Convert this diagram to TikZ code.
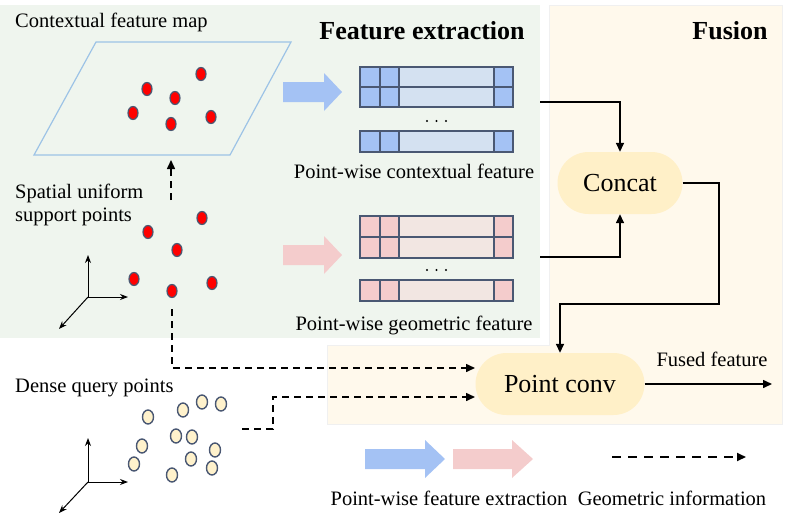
\documentclass[tikz,border=0pt]{standalone}
\usepackage{fontspec}
\setmainfont{Liberation Serif}
\usetikzlibrary{arrows.meta,positioning}

\definecolor{panelgreen}{HTML}{EFF5EE}
\definecolor{panelcream}{HTML}{FFF9EC}
\definecolor{nodecream}{HTML}{FFF0C8}
\definecolor{slate}{HTML}{4A5873}
\definecolor{ctxdark}{HTML}{A4C2F4}
\definecolor{ctxlight}{HTML}{D4E1F1}
\definecolor{geodark}{HTML}{F4CCCC}
\definecolor{geolight}{HTML}{F2E6E2}
\definecolor{planeblue}{HTML}{9DC3E6}
\definecolor{querycream}{HTML}{FFF2CC}

% block arrow: colour, left x, centre y, length, head length
\newcommand{\fatarrow}[5]{%
	\fill[#1] (#2,#3-10) -- (#2+#4-#5,#3-10) -- (#2+#4-#5,#3-19) -- (#2+#4,#3)
	-- (#2+#4-#5,#3+19) -- (#2+#4-#5,#3+10) -- (#2,#3+10) -- cycle;}
% one row of a feature bar: dark, light, top y, bottom y
\newcommand{\featrow}[4]{%
	\foreach \xa/\xb/\c in {360/380/#1,380/399/#1,399/494/#2,494/513/#1}
	\draw[cell,fill=\c] (\xa,#3) rectangle (\xb,#4);}

\begin{document}
\begin{tikzpicture}[
		x=1pt, y=-1pt,
		txt/.style={font=\fontsize{20.5}{23}\selectfont, inner sep=0pt},
		title/.style={font=\fontsize{26}{30}\selectfont\bfseries, inner sep=0pt},
		stage/.style={
			fill=nodecream,
			rounded corners=31pt,
			minimum height=62pt,
			font=\fontsize{26}{30}\selectfont
		},
		flow/.style={line width=1.5pt, -{Triangle[length=9pt,width=8pt]}},
		geo/.style={flow, dash pattern=on 7pt off 5pt},
		cell/.style={draw=slate, line width=1.6pt},
		supp/.style={draw=slate, fill=red, line width=1.2pt},
		query/.style={draw=slate, fill=querycream, line width=1.4pt},
		axis/.style={line width=1pt, -{Stealth[length=8pt,width=6pt]}}
		]
		
		\useasboundingbox (0,0) rectangle (788,528);
		
		\fill[panelgreen] (0,5) rectangle (540,338);
		\filldraw[fill=panelcream, draw=black!6] (327,345) -- (549,345) -- (549,5)
		-- (782,5) -- (782,424) -- (327,424) -- cycle;
		
		\node[title] (fe) at (422,31) {Feature extraction};
		\node[title] (fu) at (730,31) {Fusion};
		
		\draw[planeblue, line width=1.2pt] (96,42) -- (291,42) -- (230,155) -- (34,155) -- cycle;
		\node[txt, anchor=base west] (mapl) at (15,27) {Contextual feature map};
		\foreach \px/\py in {201/74,147/89,175/98,133/113,211/117,171/124}
		\draw[supp] (\px,\py) ellipse (5 and 6.5);
		
		\node[txt, anchor=west, align=left] (suppl) at (15,205) {Spatial uniform\\support points};
		\foreach \px/\py in {202/218,148/232,177/250,134/279,212/283,172/291}
		\draw[supp] (\px,\py) ellipse (5 and 6.5);
		
		\coordinate (o1) at (88,297);
		\draw[axis] (o1) -- (88,255);
		\draw[axis] (o1) -- (128,297);
		\draw[axis] (o1) -- (59,329);
		
		\node[txt, anchor=base west] (densel) at (15,392) {Dense query points};
		\foreach \px/\py in {148/417,183/410,202/402,221/404,176/436,192/437,
			142/446,215/450,191/459,134/464,212/468,172/475}
		\draw[query] (\px,\py) ellipse (5.5 and 7);
		
		\coordinate (o2) at (88,482);
		\draw[axis] (o2) -- (88,438);
		\draw[axis] (o2) -- (128,482);
		\draw[axis] (o2) -- (59,513);
		
		\fatarrow{ctxdark}{283}{92}{59}{18}
		\fatarrow{geodark}{283}{255}{59}{18}
		
		\featrow{ctxdark}{ctxlight}{67}{87}
		\featrow{ctxdark}{ctxlight}{87}{107}
		\featrow{ctxdark}{ctxlight}{131}{152}
		\featrow{geodark}{geolight}{216}{237}
		\featrow{geodark}{geolight}{237}{258}
		\featrow{geodark}{geolight}{280}{301}
		\foreach \d in {0,1,2} {
			\fill (427+9.5*\d,121) circle (1.1);
			\fill (427+9.5*\d,270) circle (1.1);
		}
		\node[txt, anchor=base] (ctxl) at (414,178) {Point-wise contextual feature};
		\node[txt, anchor=base] (geol) at (414,330) {Point-wise geometric feature};
		
		\node[stage, minimum width=125pt] (concat) at (620,183) {Concat};
		\node[stage, minimum width=169pt] (pconv) at (560,384) {Point conv};
		\node[txt, anchor=base] (fusedl) at (712,366) {Fused feature};
		
		\coordinate (ctxout) at (540,102);
		\coordinate (geoout) at (540,257);
		\coordinate (turn) at (719,304);
		\coordinate (out) at (772,384);
		\draw[flow] (ctxout) -| (concat);
		\draw[flow] (geoout) -| (concat);
		\draw[flow] (concat.east) -| (turn) -| (pconv.north);
		\draw[flow] (pconv) -- (out);
		
		\coordinate (suppup) at (171,200);
		\coordinate (mapbot) at (171,160);
		\coordinate (suppdown) at (172,309);
		\coordinate (g1in) at (475,368);
		\coordinate (qout) at (242,429);
		\coordinate (g2in) at (475,397);
		\draw[geo] (suppup) -- (mapbot);
		\draw[geo] (suppdown) |- (g1in);
		\draw[geo] (qout) -- ++(31,0) |- (g2in);
		
		\fatarrow{ctxdark}{365}{459}{80}{20}
		\fatarrow{geodark}{453}{459}{80}{21}
		\coordinate (lgs) at (612,457);
		\coordinate (lge) at (746,457);
		\draw[geo, line width=2pt, dash pattern=on 9pt off 7pt] (lgs) -- (lge);
		\node[txt, anchor=base] (lgfeat) at (449,505) {Point-wise feature extraction};
		\node[txt, anchor=base] (lggeo) at (672,505) {Geometric information};
		
	\end{tikzpicture}
\end{document}
